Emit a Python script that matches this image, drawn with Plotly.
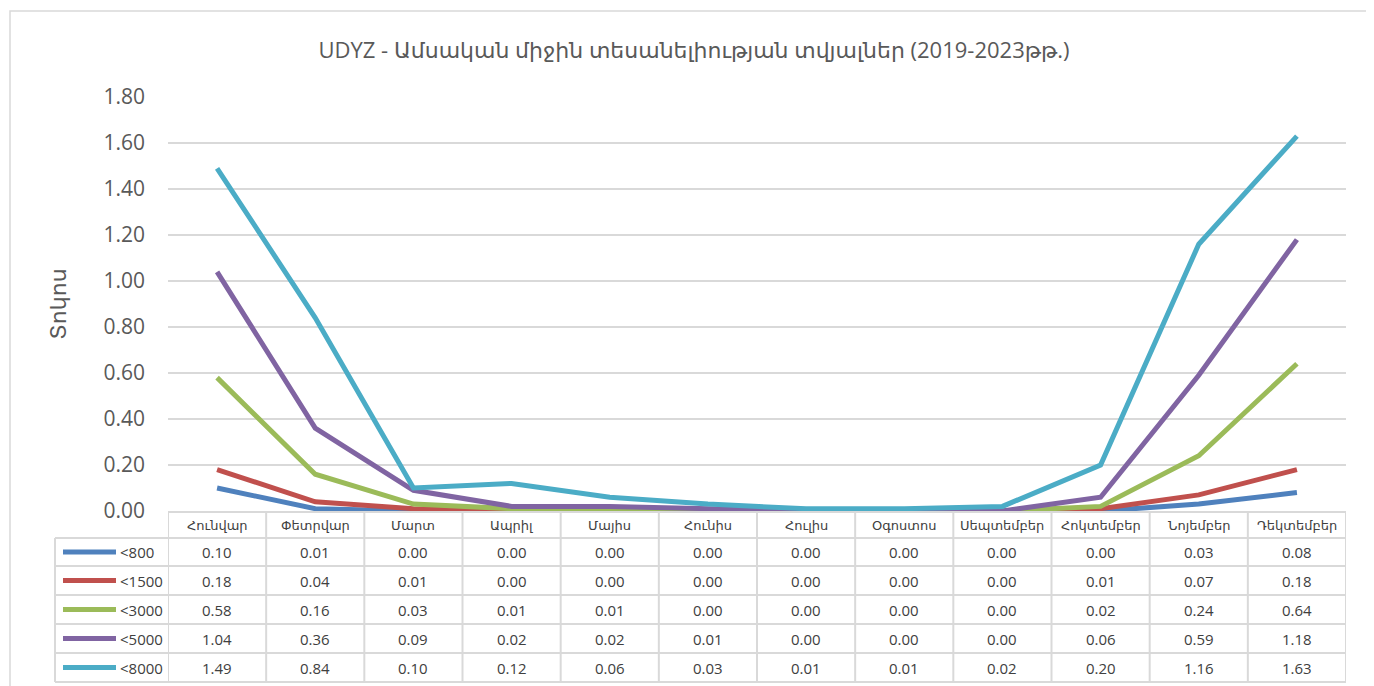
import plotly.graph_objects as go

months = ["Հունվար", "Փետրվար", "Մարտ", "Ապրիլ", "Մայիս", "Հունիս",
          "Հուլիս", "Օգոստոս", "Սեպտեմբեր", "Հոկտեմբեր", "Նոյեմբեր", "Դեկտեմբեր"]

series_names = ["<800", "<1500", "<3000", "<5000", "<8000"]
vis_800 = [0.10, 0.01, 0.00, 0.00, 0.00, 0.00, 0.00, 0.00, 0.00, 0.00, 0.03, 0.08]
vis_1500 = [0.18, 0.04, 0.01, 0.00, 0.00, 0.00, 0.00, 0.00, 0.00, 0.01, 0.07, 0.18]
vis_3000 = [0.58, 0.16, 0.03, 0.01, 0.01, 0.00, 0.00, 0.00, 0.00, 0.02, 0.24, 0.64]
vis_5000 = [1.04, 0.36, 0.09, 0.02, 0.02, 0.01, 0.00, 0.00, 0.00, 0.06, 0.59, 1.18]
vis_8000 = [1.49, 0.84, 0.10, 0.12, 0.06, 0.03, 0.01, 0.01, 0.02, 0.20, 1.16, 1.63]
series_values = [vis_800, vis_1500, vis_3000, vis_5000, vis_8000]
colors = ["#4F81BD", "#C0504D", "#9BBB59", "#8064A2", "#4BACC6"]

yticks = [0.0, 0.2, 0.4, 0.6, 0.8, 1.0, 1.2, 1.4, 1.6, 1.8]

# the page body has an 8px margin, so the figure starts at (8, 8) on screen
OFF = 8
W, H = 1374 - OFF, 686 - OFF
PL, PR, PT, PB = 168 - OFF, 1346 - OFF, 97 - OFF, 511 - OFF  # plot area in figure pixels
FONT = "Open Sans, DejaVu Sans, sans-serif"
GRID = "#d9d9d9"
TXT = "#595959"
TBL = "#404040"


def px_x(px):
    # screen x pixel -> paper coordinate
    return (px - OFF - PL) / (PR - PL)


def px_y(py):
    # screen y pixel -> paper coordinate
    return (PB - (py - OFF)) / (PB - PT)


xs = list(range(len(months)))

fig = go.Figure()
for name, vals, col in zip(series_names, series_values, colors):
    fig.add_trace(go.Scatter(
        x=xs, y=vals, mode="lines", name=name,
        line={"color": col, "width": 5},
        cliponaxis=False,
        showlegend=False,
        hovertemplate="%{y:.2f}<extra>" + name + "</extra>",
    ))

# data table under the plot
header_top, header_bot = 512, 538
row_lines = [538, 566, 595, 624, 653, 682]
legend_left = 55

shapes = []
line_style = {"color": GRID, "width": 2}
shapes.append(dict(type="line", xref="x", yref="paper", x0=-0.5, x1=len(months) - 0.5,
                   y0=px_y(header_top), y1=px_y(header_top), line=line_style))
for ry in row_lines:
    shapes.append(dict(type="line", xref="paper", yref="paper", x0=px_x(legend_left), x1=1,
                       y0=px_y(ry), y1=px_y(ry), line=line_style))
for i in range(len(months) + 1):
    shapes.append(dict(type="line", xref="x", yref="paper", x0=i - 0.5, x1=i - 0.5,
                       y0=px_y(header_top), y1=px_y(row_lines[-1]), line=line_style))
shapes.append(dict(type="line", xref="paper", yref="paper", x0=px_x(legend_left), x1=px_x(legend_left),
                   y0=px_y(header_bot), y1=px_y(row_lines[-1]), line=line_style))

# outer chart border
shapes.append(dict(type="rect", xref="paper", yref="paper", x0=px_x(10), x1=px_x(1400),
                   y0=px_y(720), y1=px_y(11), line={"color": GRID, "width": 1.5}, layer="below"))

annotations = []
for i, m in enumerate(months):
    annotations.append(dict(x=i, y=px_y((header_top + header_bot) / 2), xref="x", yref="paper",
                            yanchor="middle", text=m, showarrow=False,
                            font={"size": 13, "color": TBL, "family": FONT}))
for r, (name, vals, col) in enumerate(zip(series_names, series_values, colors)):
    yc = px_y((row_lines[r] + row_lines[r + 1]) / 2)
    shapes.append(dict(type="line", xref="paper", yref="paper", x0=px_x(63), x1=px_x(116),
                       y0=yc, y1=yc, line={"color": col, "width": 5}))
    annotations.append(dict(x=px_x(118), y=yc, xref="paper", yref="paper", xanchor="left",
                            yanchor="middle", text=name, showarrow=False,
                            font={"size": 15, "color": TBL, "family": FONT}))
    for i, v in enumerate(vals):
        annotations.append(dict(x=i, y=yc, xref="x", yref="paper", yanchor="middle",
                                text=f"{v:.2f}", showarrow=False,
                                font={"size": 15, "color": TBL, "family": FONT}))

fig.update_layout(
    width=W, height=H,
    paper_bgcolor="white", plot_bgcolor="white",
    font={"family": FONT, "color": TXT},
    title={"text": "UDYZ - Ամսական միջին տեսանելիության տվյալներ (2019-2023թթ.)",
           "x": px_x(694) * (PR - PL) / W + PL / W, "xanchor": "center",
           "y": 1 - (50 - OFF) / H, "yanchor": "middle",
           "font": {"size": 22, "color": TXT}},
    margin={"l": PL, "r": W - PR, "t": PT, "b": H - PB, "pad": 0},
    xaxis={"range": [-0.5, len(months) - 0.5], "showticklabels": False, "showgrid": False,
           "zeroline": False, "showline": False, "fixedrange": True},
    yaxis={"range": [0, 1.8], "tickvals": yticks, "tickformat": ".2f",
           "gridcolor": GRID, "gridwidth": 1.5, "zeroline": False, "showline": False,
           "ticks": "", "ticklabelstandoff": 22,
           "tickfont": {"size": 21, "color": TXT},
           "title": {"text": "Տոկոս", "font": {"size": 22, "color": TXT}, "standoff": 30}},
    shapes=shapes,
    annotations=annotations,
    showlegend=False,
)

fig.write_html("out.html")
